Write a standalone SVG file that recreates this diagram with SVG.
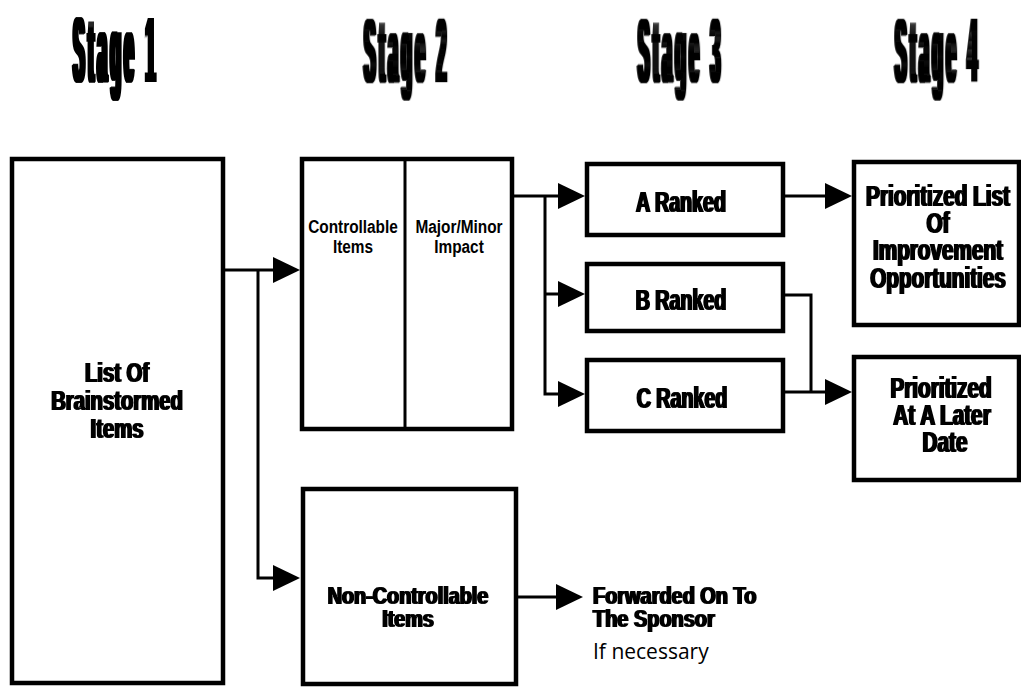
<svg xmlns="http://www.w3.org/2000/svg" width="1021" height="688" viewBox="0 0 1021 688">
<style>
.box{fill:#fff;stroke:#000;stroke-width:4.5}
.div{stroke:#000;stroke-width:3}
.c{fill:none;stroke:#000;stroke-width:3}
.t{font-family:"Liberation Sans",Arial,sans-serif;font-weight:bold;fill:#000;text-anchor:middle}
.l{font-family:"Liberation Sans",Arial,sans-serif;font-weight:bold;fill:#000;text-anchor:start}
.h{font-size:92px;letter-spacing:20px}
.n{font-family:"Open Sans","Liberation Sans",sans-serif;fill:#000;font-size:21px}
</style>
<defs>
<marker id="ah" markerUnits="userSpaceOnUse" markerWidth="28" markerHeight="28" refX="17" refY="13" orient="auto">
<path d="M0,0 L27,13 L0,26 Z" fill="#000"/>
</marker>
<filter id="heavy" x="-10%" y="-10%" width="120%" height="120%"><feMorphology operator="dilate" radius="2 0.3"/></filter>
<filter id="bold" x="-10%" y="-10%" width="120%" height="120%"><feMorphology operator="dilate" radius="0.5 0.2"/></filter>
</defs>
<g id="titles" filter="url(#heavy)">
<text class="t h" transform="translate(116,82) scale(0.183,1)">Stage 1</text>
<text class="t h" transform="translate(407,82) scale(0.183,1)">Stage 2</text>
<text class="t h" transform="translate(681,82) scale(0.183,1)">Stage 3</text>
<text class="t h" transform="translate(938,82) scale(0.183,1)">Stage 4</text>
</g>
<g id="connectors">
<path class="c" d="M224,270 H290" marker-end="url(#ah)"/>
<path class="c" d="M258,270 V578 H290" marker-end="url(#ah)"/>
<path class="c" d="M517,597 H573" marker-end="url(#ah)"/>
<path class="c" d="M513,196 H575" marker-end="url(#ah)"/>
<path class="c" d="M545,196 V394 H575" marker-end="url(#ah)"/>
<path class="c" d="M545,294 H575" marker-end="url(#ah)"/>
<path class="c" d="M784,196 H842" marker-end="url(#ah)"/>
<path class="c" d="M784,295 H811 V392"/>
<path class="c" d="M784,392 H842" marker-end="url(#ah)"/>
</g>
<g id="n-list">
<rect class="box" x="12" y="159" width="211" height="524"/>
<g filter="url(#bold)" style="font-size:27px">
<text class="t" transform="translate(117,382) scale(0.75,1)">List Of</text>
<text class="t" transform="translate(117,410) scale(0.75,1)">Brainstormed</text>
<text class="t" transform="translate(117,438) scale(0.75,1)">Items</text>
</g>
</g>
<g id="n-controllable">
<rect class="box" x="302" y="159" width="210" height="270"/>
<line class="div" x1="405" y1="160" x2="405" y2="428"/>
<g style="font-size:19px">
<text class="t" transform="translate(353,233) scale(0.81,1)">Controllable</text>
<text class="t" transform="translate(353,253) scale(0.81,1)">Items</text>
<text class="t" transform="translate(459,233) scale(0.81,1)">Major/Minor</text>
<text class="t" transform="translate(459,253) scale(0.81,1)">Impact</text>
</g>
</g>
<g id="n-noncontrollable">
<rect class="box" x="303" y="489" width="213" height="195"/>
<g filter="url(#bold)" style="font-size:24px">
<text class="t" transform="translate(408,604) scale(0.825,1)">Non-Controllable</text>
<text class="t" transform="translate(408,627) scale(0.825,1)">Items</text>
</g>
</g>
<g id="n-forward">
<g filter="url(#bold)" style="font-size:24px">
<text class="l" transform="translate(593,604) scale(0.83,1)">Forwarded On To</text>
<text class="l" transform="translate(593,627) scale(0.83,1)">The Sponsor</text>
</g>
<text class="n" x="593" y="659">If necessary</text>
</g>
<g id="n-a">
<rect class="box" x="587" y="164" width="196" height="71"/>
<g filter="url(#bold)" style="font-size:30px">
<text class="t" transform="translate(681,212) scale(0.656,1)">A Ranked</text>
</g>
</g>
<g id="n-b">
<rect class="box" x="587" y="264" width="196" height="67"/>
<g filter="url(#bold)" style="font-size:30px">
<text class="t" transform="translate(681,310) scale(0.656,1)">B Ranked</text>
</g>
</g>
<g id="n-c">
<rect class="box" x="587" y="360" width="196" height="71"/>
<g filter="url(#bold)" style="font-size:30px">
<text class="t" transform="translate(682,408) scale(0.656,1)">C Ranked</text>
</g>
</g>
<g id="n-prioritized">
<rect class="box" x="854" y="162" width="165" height="163"/>
<g filter="url(#bold)" style="font-size:29px">
<text class="t" transform="translate(938,206) scale(0.714,1)">Prioritized List</text>
<text class="t" transform="translate(938,233) scale(0.714,1)">Of</text>
<text class="t" transform="translate(938,260) scale(0.714,1)">Improvement</text>
<text class="t" transform="translate(938,288) scale(0.714,1)">Opportunities</text>
</g>
</g>
<g id="n-later">
<rect class="box" x="854" y="357" width="165" height="123"/>
<g filter="url(#bold)" style="font-size:29px">
<text class="t" transform="translate(941,398) scale(0.714,1)">Prioritized</text>
<text class="t" transform="translate(942,425) scale(0.714,1)">At A Later</text>
<text class="t" transform="translate(945,452) scale(0.714,1)">Date</text>
</g>
</g>
</svg>
